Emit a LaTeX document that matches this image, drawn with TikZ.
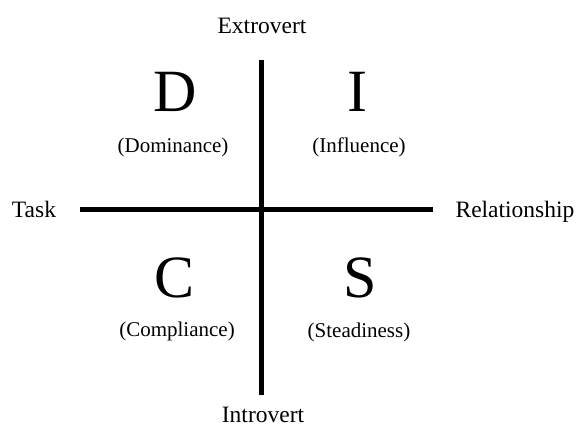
\documentclass[tikz,border=0pt]{standalone}
\usepackage{fontspec}
\setmainfont{Liberation Serif}
\begin{document}
\begin{tikzpicture}[x=1pt, y=-1pt,
    axislabel/.style={anchor=base, font=\fontsize{23.5}{28}\selectfont},
    letter/.style={anchor=base, font=\fontsize{60}{72}\selectfont},
    trait/.style={anchor=base, font=\fontsize{21}{25}\selectfont}]
    \useasboundingbox (0,0) rectangle (579,432);

    % axes
    \coordinate (top) at (261,60);
    \coordinate (bottom) at (261,395);
    \coordinate (left) at (80,209);
    \coordinate (right) at (433,209);
    \draw[line width=5pt] (top) -- (bottom);
    \draw[line width=5pt] (left) -- (right);

    \node[axislabel] (extro) at (262,33) {Extrovert};
    \node[axislabel] (intro) at (263,422) {Introvert};
    \node[axislabel] (task) at (34,217) {Task};
    \node[axislabel] (rel) at (515,217) {Relationship};

    % quadrants
    \node[letter] (D) at (175,111) {D};
    \node[trait] (dom) at (173,152) {(Dominance)};
    \node[letter] (I) at (357,111) {I};
    \node[trait] (inf) at (359,152) {(Influence)};
    \node[letter] (C) at (175,297) {C};
    \node[trait] (comp) at (177,336) {(Compliance)};
    \node[letter] (S) at (360,297) {S};
    \node[trait] (stead) at (359,337) {(Steadiness)};
\end{tikzpicture}
\end{document}
